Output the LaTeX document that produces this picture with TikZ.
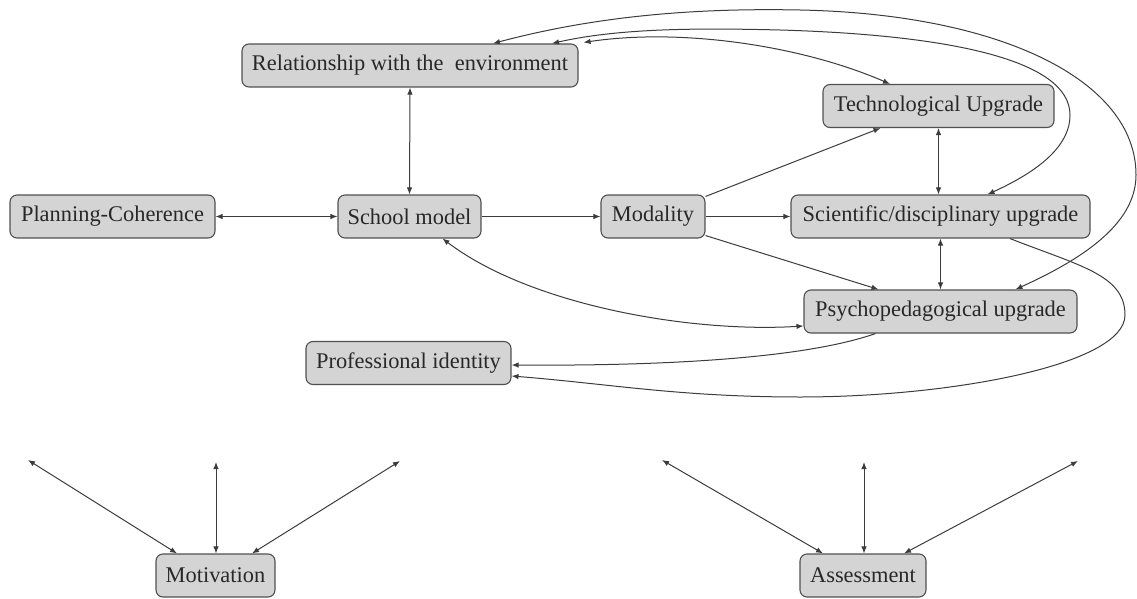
\documentclass[tikz,border=0pt]{standalone}
\usepackage{fontspec}
\setmainfont{Liberation Serif}
\newfontfamily\boxface{Liberation Serif}
\usetikzlibrary{arrows.meta}
\definecolor{boxfill}{RGB}{212,212,212}
\definecolor{boxline}{RGB}{80,80,80}
\definecolor{linkcol}{RGB}{60,60,60}
\definecolor{txtcol}{RGB}{40,40,40}
\begin{document}
\begin{tikzpicture}[x=1pt,y=-1pt,
  concept/.style={draw=boxline,line width=1.1pt,fill=boxfill,rounded corners=7pt,
    minimum height=43pt,inner xsep=2pt,inner ysep=0pt,text=txtcol,
    font=\boxface\fontsize{22.4}{26}\selectfont},
  link/.style={draw=linkcol,line width=1pt},
  one/.style={link,-{Latex[length=7pt,width=5.5pt]}},
  both/.style={link,{Latex[length=7pt,width=5.5pt]}-{Latex[length=7pt,width=5.5pt]}}]
\useasboundingbox (0,0) rectangle (1137,599);

% concept boxes
\node[concept,minimum width=336pt] (rel)    at (410,65.5)  {Relationship with the\ \ environment};
\node[concept,minimum width=231pt] (tech)   at (938.5,106) {Technological Upgrade};
\node[concept,minimum width=205pt] (plan)   at (112.5,216.5) {Planning-Coherence};
\node[concept,minimum width=143pt] (school) at (409.5,216.5) {School model};
\node[concept,minimum width=104pt] (mod)    at (653,216.5) {Modality};
\node[concept,minimum width=299pt] (sci)    at (940.5,216.5) {Scientific/disciplinary upgrade};
\node[concept,minimum width=273pt] (psy)    at (940.5,311.5) {Psychopedagogical upgrade};
\node[concept,minimum width=205pt] (prof)   at (408.5,363) {Professional identity};
\node[concept,minimum width=119pt] (mot)    at (215.5,575.5) {Motivation};
\node[concept,minimum width=126pt] (ass)    at (863,575.5) {Assessment};

% free ends of the bottom fans
\coordinate (m1) at (28,460);
\coordinate (m2) at (216,462);
\coordinate (m3) at (400,461);
\coordinate (a1) at (662,460);
\coordinate (a2) at (864,462);
\coordinate (a3) at (1078,461);

% straight links
\draw[both] (rel.south) -- (school.north);
\draw[both] (plan.east) -- (school.west);
\draw[one] (school.east) -- (mod.west);
\draw[one] (mod.east) -- (sci.west);
\draw[one] ([yshift=-2pt]mod.north east) -- ([xshift=-58pt]tech.south);
\draw[one] ([yshift=3pt]mod.south east) -- ([xshift=-62pt]psy.north);
\draw[both] (tech.south) -- (tech.south |- sci.north);
\draw[both] (sci.south) -- (psy.north);
\draw[both] ([xshift=33pt]school.south) .. controls (530,305) and (690,333) .. ([yshift=-14.5pt]psy.west);

% curved links into professional identity
\draw[one] ([xshift=-65pt]psy.south) .. controls (800,360) and (650,366) .. ([yshift=-2pt]prof.east);
\draw[one] ([xshift=69.5pt]sci.south) .. controls (1080,266) and (1125,275) .. (1125,315)
  .. controls (1125,365) and (950,397) .. (800,397)
  .. controls (680,397) and (611,384) .. ([yshift=-13pt]prof.east);

% long arcs over the top
\draw[both] ([xshift=83pt]rel.north) .. controls (600,15) and (700,8) .. (800,10)
  .. controls (1000,14) and (1136,80) .. (1136,175)
  .. controls (1136,225) and (1080,260) .. ([xshift=75pt]psy.north);
\draw[both] ([xshift=142pt]rel.north) .. controls (620,28) and (700,28) .. (780,30)
  .. controls (950,35) and (1070,60) .. (1070,115)
  .. controls (1070,150) and (1030,175) .. ([xshift=47pt]sci.north);
\draw[both] ([xshift=5pt,yshift=1pt]rel.north east) .. controls (680,28) and (800,45) .. ([xshift=-48.5pt]tech.north);

% bottom fans
\draw[both] ([xshift=-38.5pt]mot.north) -- (m1);
\draw[both] (mot.north -| m2) -- (m2);
\draw[both] ([xshift=36.5pt]mot.north) -- (m3);
\draw[both] ([xshift=-40pt]ass.north) -- (a1);
\draw[both] (ass.north -| a2) -- (a2);
\draw[both] ([xshift=41pt]ass.north) -- (a3);
\end{tikzpicture}
\end{document}
